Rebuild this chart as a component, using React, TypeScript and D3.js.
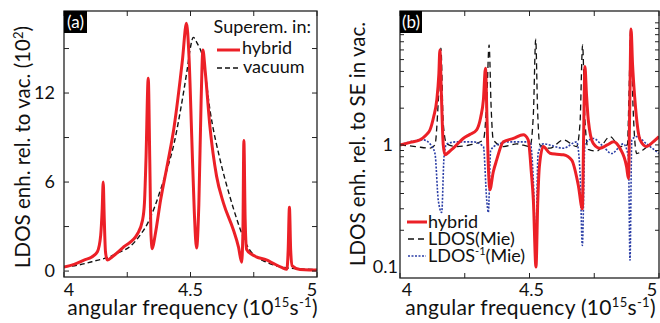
import { scaleLinear, scaleLog, line, curveMonotoneX } from "d3";

// panel (a): LDOS enhancement relative to vacuum (units of 10^2)
const hybridA: [number, number][] = [
  [4.0, 0.28], [4.04, 0.45], [4.079, 0.74], [4.11, 0.95], [4.132, 1.3], [4.145, 2.4], [4.151, 4.2],
  [4.155, 6.0], [4.159, 3.6], [4.164, 1.3], [4.171, 0.74], [4.19, 0.95], [4.237, 1.64],
  [4.29, 2.5], [4.31, 3.4], [4.318, 4.6], [4.324, 7.5], [4.333, 13.0], [4.339, 7.5],
  [4.344, 2.4], [4.349, 1.5], [4.36, 2.4], [4.382, 4.8], [4.41, 7.3], [4.435, 9.7],
  [4.468, 14.2], [4.484, 16.7], [4.494, 14.5], [4.505, 9.0], [4.515, 4.0], [4.524, 1.55],
  [4.533, 4.5], [4.542, 11.5], [4.549, 14.9], [4.558, 13.5], [4.577, 9.7], [4.603, 6.4],
  [4.63, 4.6], [4.669, 2.8], [4.69, 1.6], [4.702, 0.6], [4.707, 2.5], [4.711, 8.8],
  [4.716, 3.5], [4.722, 1.45], [4.74, 1.15], [4.76, 0.96], [4.8, 0.75], [4.827, 0.52],
  [4.86, 0.25], [4.881, 0.12], [4.886, 1.4], [4.891, 4.3], [4.896, 1.4], [4.902, 0.35],
  [4.933, 0.1], [4.97, 0.07], [5.0, 0.07],
];

const vacuumA: [number, number][] = [
  [4.0, 0.28], [4.06, 0.42], [4.13, 0.72], [4.17, 0.9], [4.21, 1.2], [4.264, 1.7],
  [4.3, 2.4], [4.33, 3.2], [4.36, 4.4], [4.382, 5.5], [4.41, 7.0], [4.435, 8.6],
  [4.46, 10.8], [4.487, 13.6], [4.5, 15.1], [4.511, 15.75], [4.525, 15.4], [4.551, 14.2],
  [4.577, 10.85], [4.617, 7.5], [4.656, 5.0], [4.685, 3.4], [4.708, 2.3], [4.735, 1.4],
  [4.76, 0.96], [4.8, 0.6], [4.854, 0.29], [4.9, 0.18], [4.95, 0.13], [5.0, 0.1],
];

// panel (b): LDOS enhancement relative to spontaneous emission in vacuum
const hybridB: [number, number][] = [
  [4.0, 1.0], [4.04, 1.05], [4.077, 1.1], [4.1, 1.2], [4.116, 1.33], [4.13, 1.7],
  [4.142, 2.34], [4.15, 3.8], [4.154, 6.0], [4.16, 2.5], [4.167, 1.0], [4.174, 0.83],
  [4.19, 0.88], [4.206, 0.94], [4.244, 1.13], [4.27, 1.22], [4.296, 1.33], [4.312, 1.7],
  [4.322, 2.34], [4.33, 4.25], [4.336, 1.6], [4.342, 0.6], [4.347, 0.43], [4.36, 0.6],
  [4.373, 0.75], [4.399, 1.06], [4.438, 1.13], [4.476, 1.21], [4.495, 1.1], [4.507, 0.6],
  [4.515, 0.35], [4.525, 0.1], [4.532, 0.35], [4.538, 0.66], [4.553, 0.97], [4.579, 0.855],
  [4.605, 0.84], [4.631, 0.83], [4.663, 0.75], [4.689, 0.46], [4.704, 0.3], [4.709, 1.2],
  [4.714, 4.38], [4.72, 2.6], [4.727, 1.6], [4.746, 1.03], [4.772, 0.94], [4.8, 1.0],
  [4.824, 1.06], [4.849, 0.94], [4.875, 0.66], [4.882, 0.53], [4.887, 2.0], [4.892, 8.9],
  [4.898, 4.5], [4.907, 2.34], [4.927, 1.1], [4.952, 0.97], [4.975, 1.05], [5.0, 1.17],
];

const ldosMie: [number, number][] = [
  [4.0, 1.0], [4.06, 0.97], [4.116, 0.94], [4.135, 1.0], [4.148, 2.3], [4.158, 6.2],
  [4.167, 1.5], [4.18, 1.02], [4.219, 0.97], [4.27, 1.0], [4.322, 1.1], [4.335, 2.3],
  [4.344, 6.6], [4.352, 2.0], [4.36, 1.1], [4.4, 0.97], [4.45, 1.02], [4.502, 0.97],
  [4.515, 1.8], [4.524, 7.35], [4.531, 2.0], [4.54, 1.0], [4.579, 0.94], [4.631, 1.1],
  [4.682, 0.97], [4.695, 1.5], [4.705, 6.6], [4.714, 1.6], [4.727, 0.92], [4.759, 0.89],
  [4.811, 1.17], [4.849, 0.97], [4.878, 1.0], [4.884, 2.5], [4.891, 9.0], [4.9, 2.0],
  [4.914, 0.85], [4.947, 0.94], [5.0, 1.17],
];

const ldosInvMie: [number, number][] = [
  [4.0, 1.0], [4.09, 1.1], [4.116, 1.02], [4.135, 0.85], [4.148, 0.35], [4.161, 0.28],
  [4.17, 0.8], [4.18, 1.02], [4.22, 1.06], [4.283, 1.06], [4.322, 0.97], [4.335, 0.35],
  [4.341, 0.28], [4.35, 0.9], [4.373, 1.0], [4.425, 1.06], [4.502, 1.06], [4.515, 0.5],
  [4.524, 0.138], [4.533, 0.85], [4.553, 1.02], [4.631, 0.94], [4.682, 1.06], [4.695, 0.6],
  [4.704, 0.15], [4.714, 1.02], [4.746, 1.13], [4.785, 0.97], [4.817, 0.85], [4.862, 1.02],
  [4.882, 0.8], [4.888, 0.114], [4.895, 1.1], [4.914, 1.17], [4.952, 1.02], [5.0, 0.85],
];

const xTicks = [4, 4.25, 4.5, 4.75, 5];
const xLabels = ["4", "4.5", "5"];
const yTicksA = [0, 3, 6, 9, 12, 15];
const yLabelsA = [0, 6, 12];
const yTicksB = [0.2, 0.3, 0.4, 0.5, 0.6, 0.7, 0.8, 0.9, 1, 2, 3, 4, 5, 6, 7, 8, 9, 10];
const yLabelsB = [0.1, 1];

const RED = "#ec2027";
const BLUE = "#2b3ea6";
const FONT = "Lato, 'Open Sans', sans-serif";

function XTitle(props: { cx: number }) {
  return (
    <text x={props.cx} y={315} textAnchor="middle" fontSize={21} letterSpacing={0.3} fill="#111">
      angular frequency (10<tspan dy={-8} fontSize={13}>15</tspan>
      <tspan dy={8}>s</tspan>
      <tspan dy={-8} fontSize={13}>-1</tspan>
      <tspan dy={8}>)</tspan>
    </text>
  );
}

function PanelA() {
  const left = 64, right = 317, top = 11, bottom = 277;
  const x = scaleLinear([4, 5], [left, right]);
  const y = scaleLinear([-0.4, 17.53], [bottom, top]);
  const path = line<[number, number]>((d) => x(d[0]), (d) => y(d[1])).curve(curveMonotoneX);
  return (
    <g>
      <defs>
        <clipPath id="clipA">
          <rect x={left} y={top} width={right - left} height={bottom - top} />
        </clipPath>
      </defs>
      <g clipPath="url(#clipA)">
        <path d={path(vacuumA) ?? ""} fill="none" stroke="#111" strokeWidth={1.4} strokeDasharray="5,3" />
        <path d={path(hybridA) ?? ""} fill="none" stroke={RED} strokeWidth={3} strokeLinejoin="round" />
      </g>
      <rect x={left} y={top} width={right - left} height={bottom - top} fill="none" stroke="#222" strokeWidth={1.3} />
      {xTicks.map((t) => (
        <g key={t}>
          <line x1={x(t)} x2={x(t)} y1={bottom} y2={bottom - 5} stroke="#222" />
          <line x1={x(t)} x2={x(t)} y1={top} y2={top + 5} stroke="#222" />
        </g>
      ))}
      {yTicksA.map((t) => (
        <g key={t}>
          <line x1={left} x2={left + 5} y1={y(t)} y2={y(t)} stroke="#222" />
          <line x1={right} x2={right - 5} y1={y(t)} y2={y(t)} stroke="#222" />
        </g>
      ))}
      {yLabelsA.map((t) => (
        <text key={t} x={55} y={y(t) + 6} textAnchor="end" fontSize={18} fill="#111">{t}</text>
      ))}
      {xLabels.map((t, i) => (
        <text key={t} x={x(+t) + (i === 0 ? 5 : i === 2 ? -5 : 0)} y={296} textAnchor="middle" fontSize={18} fill="#111">{t}</text>
      ))}
      <rect x={left} y={top} width={23} height={22} fill="#000" />
      <text x={left + 11.5} y={top + 17} textAnchor="middle" fontSize={17} fill="#fff">(a)</text>
      <text x={311} y={33} textAnchor="end" fontSize={18} fill="#111">Superem. in:</text>
      <line x1={217} x2={240} y1={50} y2={50} stroke={RED} strokeWidth={3} />
      <text x={242} y={54} fontSize={18} fill="#111">hybrid</text>
      <line x1={217} x2={241} y1={68} y2={68} stroke="#111" strokeWidth={1.4} strokeDasharray="5,3" />
      <text x={243} y={73} fontSize={18} fill="#111">vacuum</text>
      <text transform="translate(30,147) rotate(-90)" textAnchor="middle" fontSize={20.5} fill="#111">
        LDOS enh. rel. to vac. (10<tspan dy={-7} fontSize={13}>2</tspan><tspan dy={7}>)</tspan>
      </text>
      <XTitle cx={(left + right) / 2 + 2} />
    </g>
  );
}

function PanelB() {
  const left = 400, right = 659, top = 11, bottom = 278;
  const x = scaleLinear([4, 5], [left, right]);
  const y = scaleLog([0.0813, 12.5], [bottom, top]);
  const path = line<[number, number]>((d) => x(d[0]), (d) => y(d[1])).curve(curveMonotoneX);
  return (
    <g>
      <defs>
        <clipPath id="clipB">
          <rect x={left} y={top} width={right - left} height={bottom - top} />
        </clipPath>
      </defs>
      <g clipPath="url(#clipB)">
        <path d={path(ldosMie) ?? ""} fill="none" stroke="#111" strokeWidth={1.3} strokeDasharray="6,4" />
        <path d={path(ldosInvMie) ?? ""} fill="none" stroke={BLUE} strokeWidth={1.6} strokeDasharray="2,1.5" />
        <path d={path(hybridB) ?? ""} fill="none" stroke={RED} strokeWidth={3} strokeLinejoin="round" />
      </g>
      <rect x={left} y={top} width={right - left} height={bottom - top} fill="none" stroke="#222" strokeWidth={1.3} />
      {xTicks.map((t) => (
        <g key={t}>
          <line x1={x(t)} x2={x(t)} y1={bottom} y2={bottom - 5} stroke="#222" />
          <line x1={x(t)} x2={x(t)} y1={top} y2={top + 5} stroke="#222" />
        </g>
      ))}
      {yTicksB.map((t) => (
        <g key={t}>
          <line x1={left} x2={left + 4} y1={y(t)} y2={y(t)} stroke="#222" />
          <line x1={right} x2={right - 4} y1={y(t)} y2={y(t)} stroke="#222" />
        </g>
      ))}
      {yLabelsB.map((t) => (
        <text key={t} x={t === 1 ? 393 : 398} y={y(t) + 6} textAnchor="end" fontSize={18} fill="#111">{t}</text>
      ))}
      {xLabels.map((t, i) => (
        <text key={t} x={x(+t) + (i === 0 ? 7 : i === 2 ? -7 : 2)} y={296} textAnchor="middle" fontSize={18} fill="#111">{t}</text>
      ))}
      <rect x={left} y={top} width={22} height={22} fill="#000" />
      <text x={left + 11} y={top + 17} textAnchor="middle" fontSize={17} fill="#fff">(b)</text>
      <line x1={407} x2={427} y1={222} y2={222} stroke={RED} strokeWidth={3} />
      <text x={428} y={228} fontSize={18} fill="#111">hybrid</text>
      <line x1={408} x2={426} y1={239} y2={239} stroke="#111" strokeWidth={1.3} strokeDasharray="6,4" />
      <text x={428} y={245} fontSize={18} fill="#111">LDOS(Mie)</text>
      <line x1={408} x2={426} y1={256} y2={256} stroke={BLUE} strokeWidth={1.6} strokeDasharray="2,1.5" />
      <text x={428} y={262} fontSize={18} fill="#111">
        LDOS<tspan dy={-7} fontSize={11}>-1</tspan><tspan dy={7}>(Mie)</tspan>
      </text>
      <text transform="translate(365,144) rotate(-90)" textAnchor="middle" fontSize={20.5} fill="#111">
        LDOS enh. rel. to SE in vac.
      </text>
      <XTitle cx={(left + right) / 2 + 1} />
    </g>
  );
}

export default function App() {
  return (
    <svg width={660} height={323} style={{ position: "absolute", left: 0, top: 0, fontFamily: FONT }}>
      <rect width={660} height={323} fill="#fff" />
      <PanelA />
      <PanelB />
    </svg>
  );
}
